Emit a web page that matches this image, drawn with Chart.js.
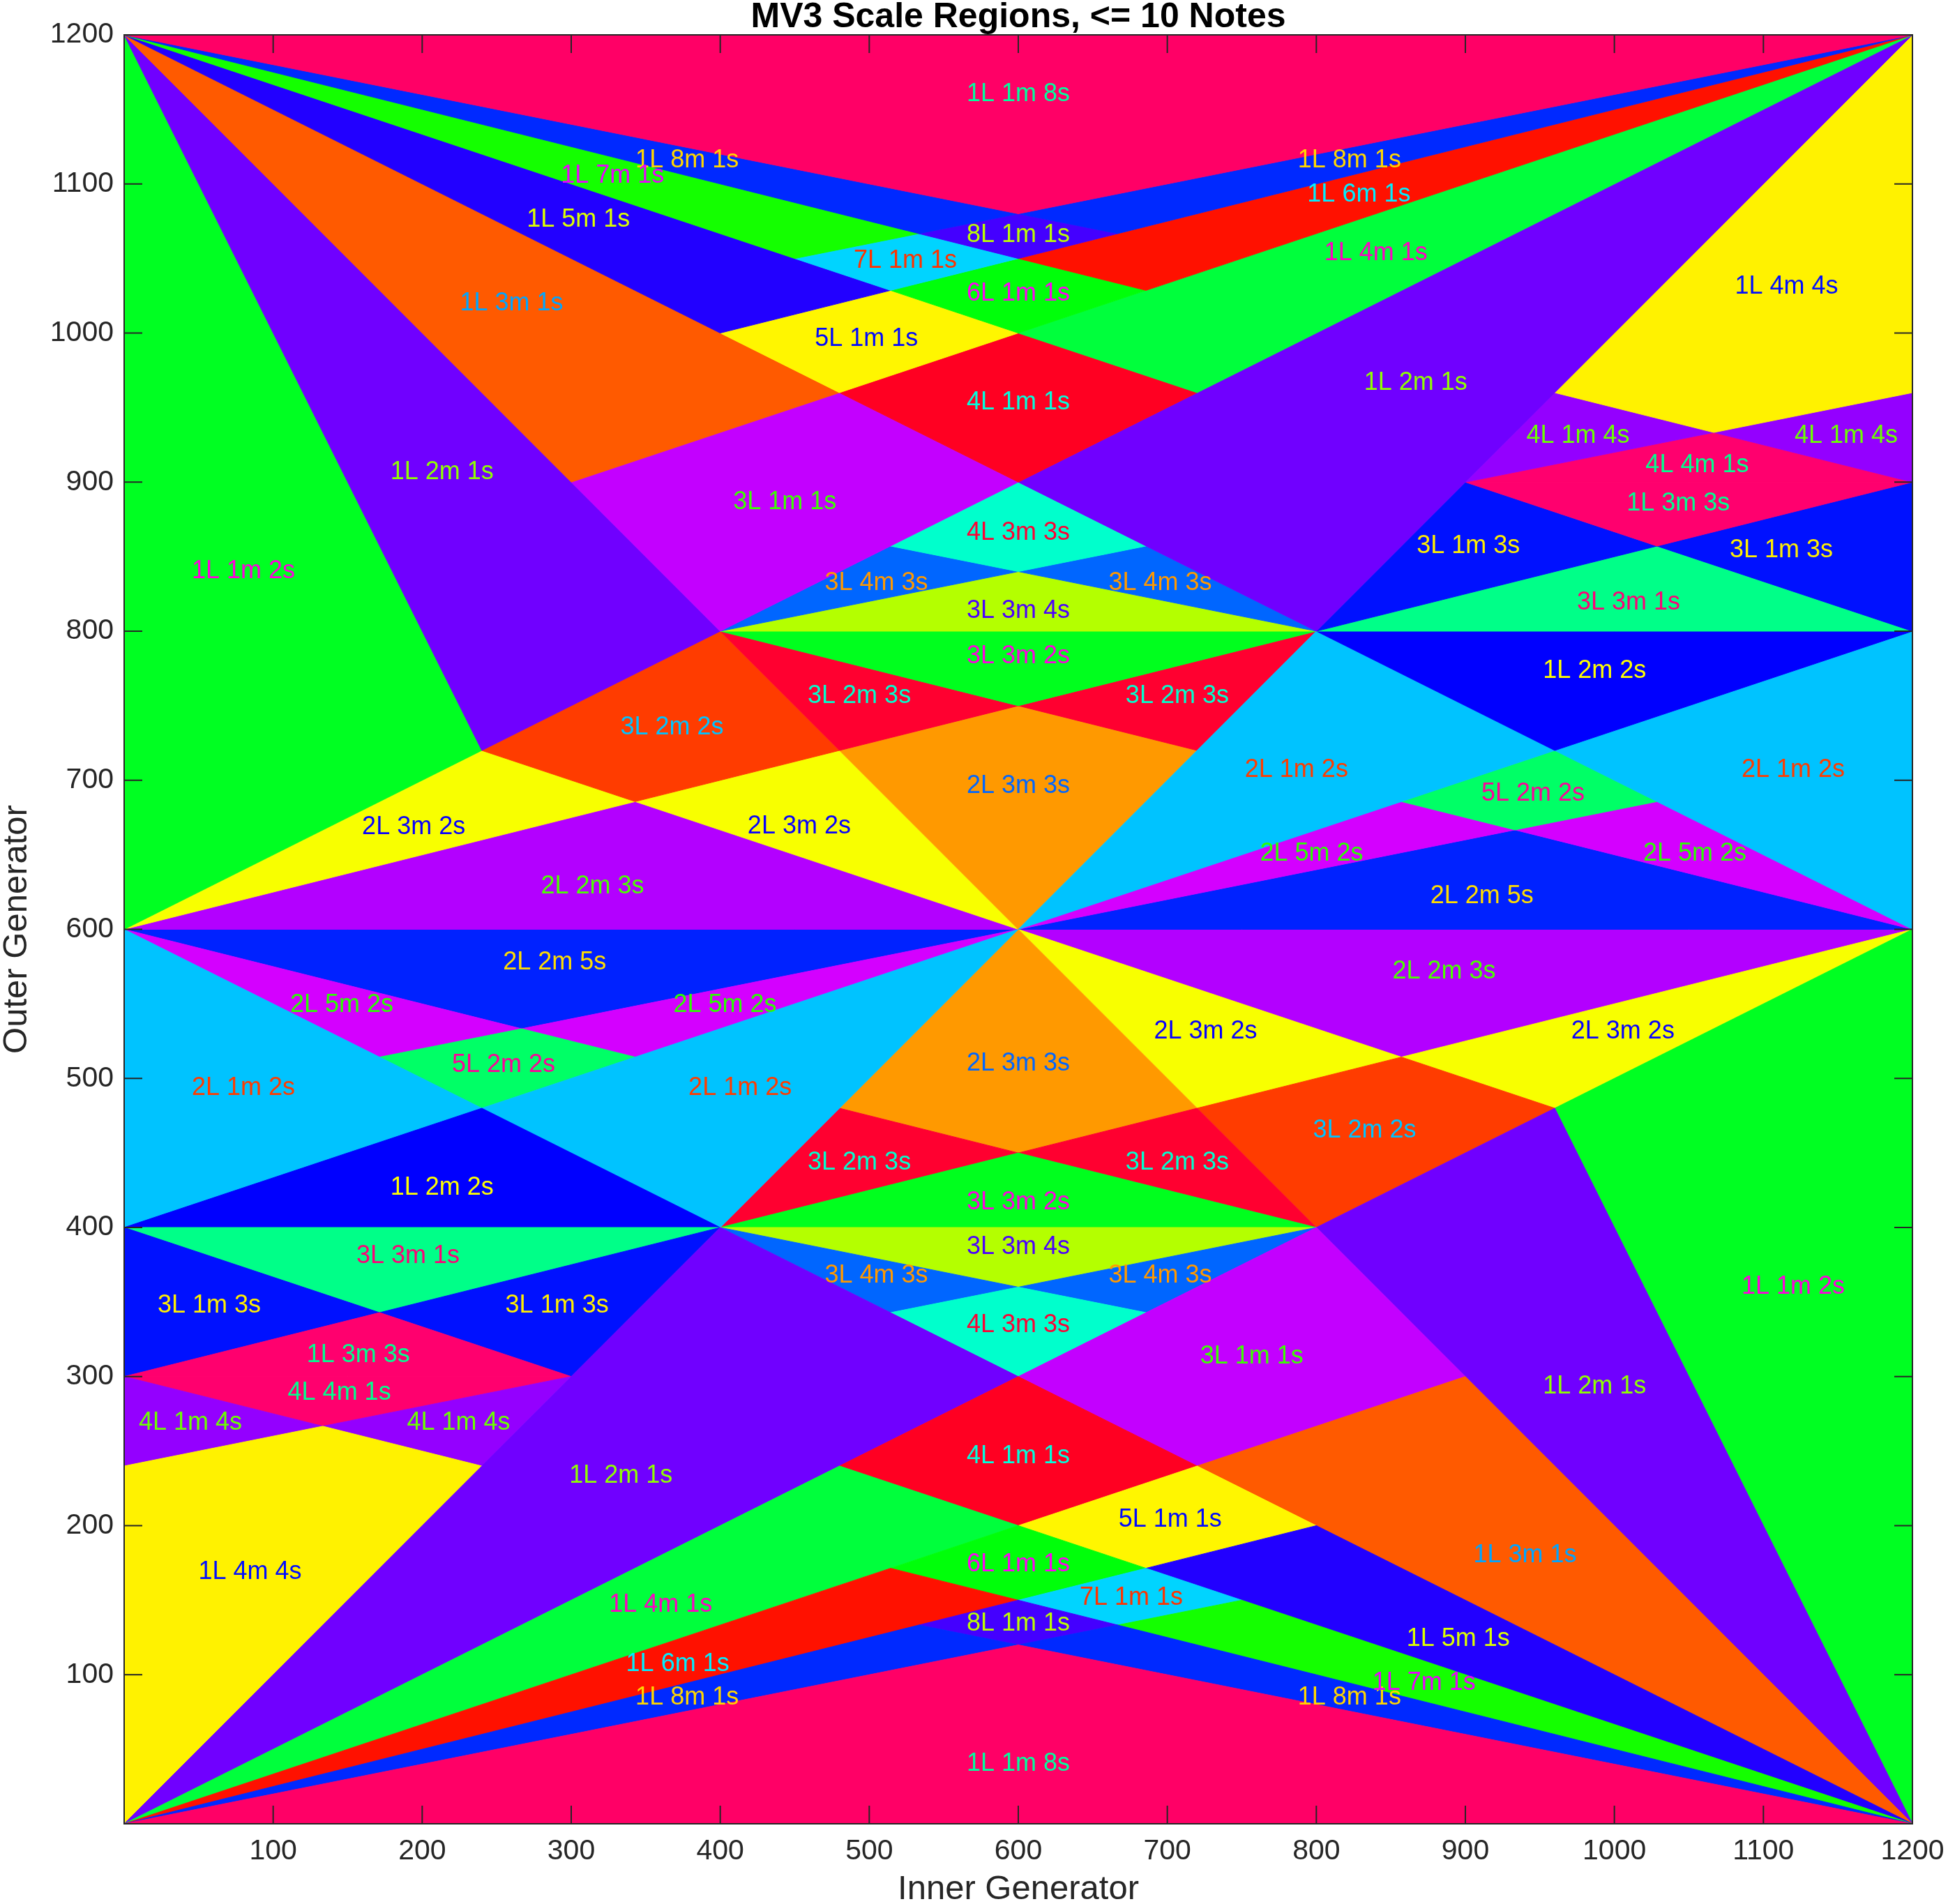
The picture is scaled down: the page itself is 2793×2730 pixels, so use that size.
<!DOCTYPE html>
<html>
<head>
<meta charset="utf-8">
<title>MV3 Scale Regions</title>
<script src="https://cdn.jsdelivr.net/npm/chart.js@4.4.1/dist/chart.umd.min.js"></script>
<style>
  html, body { margin: 0; background: #fff; }
  canvas { display: block; }
</style>
</head>
<body>
<canvas id="regionsChart" width="2793" height="2730" style="width:2793px;height:2730px"></canvas>
<script>
// scale signatures and their colours
const scaleNames = ['1L 1m 8s','1L 8m 1s','8L 1m 1s','1L 7m 1s','7L 1m 1s','1L 6m 1s','1L 5m 1s','6L 1m 1s','5L 1m 1s',
  '1L 4m 1s','1L 3m 1s','4L 1m 1s','3L 1m 1s','1L 2m 1s','1L 1m 2s','4L 3m 3s','3L 4m 3s','3L 3m 4s','1L 4m 4s',
  '4L 1m 4s','4L 4m 1s','1L 3m 3s','3L 1m 3s','3L 3m 1s','1L 2m 2s','2L 1m 2s','5L 2m 2s','2L 5m 2s','2L 2m 5s',
  '3L 3m 2s','3L 2m 3s','2L 3m 3s','3L 2m 2s','2L 3m 2s','2L 2m 3s'];
const fillColors = ['#FF0066','#0029FF','#4400FF','#14FF00','#00D4FF','#FF1100','#2200FF','#00FF0A','#FFF600',
  '#00FF3C','#FF5A00','#FF0022','#C300FF','#7000FF','#00FF22','#00FFCC','#0066FF','#B4FF00','#FFF200',
  '#9400FF','#FF006E','#FF006E','#0011FF','#00FF88','#0000FF','#00C3FF','#00FF66','#D400FF','#0022FF',
  '#00FF1E','#FF0030','#FF9900','#FF3C00','#F8FF00','#B300FF'];
const textColors = ['#00FF9E','#FFD600','#BBFF00','#EB00FF','#FF3300','#00EEFF','#DDFF00','#FF00F5','#0009FF',
  '#FF00C3','#00A5FF','#00FFDD','#3CFF00','#8FFF00','#FF00DD','#FF0033','#FF9900','#4B00FF','#000EFF',
  '#6BFF00','#00FF8F','#00FF91','#FFEE00','#FF0077','#FFFF00','#FF3C00','#FF0099','#2BFF00','#FFDD00',
  '#FF00E1','#00FFCF','#0066FF','#00C3FF','#0700FF','#4CFF00'];

// which signature each region carries (same order for the upper and lower half)
const regionScales = ['1L 1m 8s','1L 8m 1s','1L 8m 1s','8L 1m 1s','1L 7m 1s','7L 1m 1s','1L 6m 1s','1L 5m 1s','6L 1m 1s','5L 1m 1s',
  '1L 4m 1s','1L 3m 1s','4L 1m 1s','3L 1m 1s','1L 2m 1s','1L 1m 2s','1L 2m 1s','4L 3m 3s','3L 4m 3s','3L 4m 3s',
  '3L 3m 4s','1L 4m 4s','4L 1m 4s','4L 1m 4s','4L 4m 1s','1L 3m 3s','3L 1m 3s','3L 1m 3s','3L 3m 1s','1L 2m 2s',
  '2L 1m 2s','2L 1m 2s','5L 2m 2s','2L 5m 2s','2L 5m 2s','2L 2m 5s','3L 3m 2s','3L 2m 3s','3L 2m 3s','2L 3m 3s',
  '3L 2m 2s','2L 3m 2s','2L 3m 2s','2L 2m 3s'];

// region corners, [inner, outer] generator in cents
const upperVerts = [
  [[0,1200],[1200,1200],[600,1080]],
  [[0,1200],[600,1080],[533.3,1066.7]],
  [[600,1080],[1200,1200],[666.7,1066.7]],
  [[600,1080],[666.7,1066.7],[600,1050],[533.3,1066.7]],
  [[0,1200],[533.3,1066.7],[450,1050]],
  [[450,1050],[533.3,1066.7],[600,1050],[514.3,1028.6]],
  [[600,1050],[1200,1200],[685.7,1028.6]],
  [[0,1200],[514.3,1028.6],[400,1000]],
  [[514.3,1028.6],[600,1050],[685.7,1028.6],[600,1000]],
  [[400,1000],[514.3,1028.6],[600,1000],[480,960]],
  [[600,1000],[1200,1200],[720,960]],
  [[0,1200],[300,900],[480,960]],
  [[480,960],[600,1000],[720,960],[600,900]],
  [[300,900],[480,960],[600,900],[400,800]],
  [[0,1200],[240,720],[400,800]],
  [[0,600],[0,1200],[240,720]],
  [[600,900],[1200,1200],[800,800]],
  [[600,900],[685.7,857.1],[600,840],[514.3,857.1]],
  [[400,800],[514.3,857.1],[600,840]],
  [[600,840],[685.7,857.1],[800,800]],
  [[400,800],[600,840],[800,800]],
  [[1200,1200],[960,960],[1066.7,933.3],[1200,960]],
  [[960,960],[1066.7,933.3],[900,900]],
  [[1066.7,933.3],[1200,960],[1200,900]],
  [[900,900],[1066.7,933.3],[1200,900]],
  [[900,900],[1200,900],[1028.6,857.1]],
  [[800,800],[900,900],[1028.6,857.1]],
  [[1028.6,857.1],[1200,900],[1200,800]],
  [[800,800],[1028.6,857.1],[1200,800]],
  [[800,800],[1200,800],[960,720]],
  [[600,600],[800,800],[960,720]],
  [[960,720],[1200,800],[1200,600]],
  [[960,720],[1028.6,685.7],[933.3,666.7],[857.1,685.7]],
  [[600,600],[857.1,685.7],[933.3,666.7]],
  [[933.3,666.7],[1028.6,685.7],[1200,600]],
  [[600,600],[933.3,666.7],[1200,600]],
  [[400,800],[800,800],[600,750]],
  [[400,800],[600,750],[480,720]],
  [[800,800],[720,720],[600,750]],
  [[480,720],[600,750],[720,720],[600,600]],
  [[240,720],[400,800],[480,720],[342.9,685.7]],
  [[0,600],[240,720],[342.9,685.7]],
  [[342.9,685.7],[480,720],[600,600]],
  [[0,600],[342.9,685.7],[600,600]]
];

const lowerVerts = [
  [[1200,0],[0,0],[600,120]],
  [[1200,0],[600,120],[666.7,133.3]],
  [[600,120],[0,0],[533.3,133.3]],
  [[600,120],[533.3,133.3],[600,150],[666.7,133.3]],
  [[1200,0],[666.7,133.3],[750,150]],
  [[750,150],[666.7,133.3],[600,150],[685.7,171.4]],
  [[600,150],[0,0],[514.3,171.4]],
  [[1200,0],[685.7,171.4],[800,200]],
  [[685.7,171.4],[600,150],[514.3,171.4],[600,200]],
  [[800,200],[685.7,171.4],[600,200],[720,240]],
  [[600,200],[0,0],[480,240]],
  [[1200,0],[900,300],[720,240]],
  [[720,240],[600,200],[480,240],[600,300]],
  [[900,300],[720,240],[600,300],[800,400]],
  [[1200,0],[960,480],[800,400]],
  [[1200,600],[1200,0],[960,480]],
  [[600,300],[0,0],[400,400]],
  [[600,300],[514.3,342.9],[600,360],[685.7,342.9]],
  [[800,400],[685.7,342.9],[600,360]],
  [[600,360],[514.3,342.9],[400,400]],
  [[800,400],[600,360],[400,400]],
  [[0,0],[240,240],[133.3,266.7],[0,240]],
  [[240,240],[133.3,266.7],[300,300]],
  [[133.3,266.7],[0,240],[0,300]],
  [[300,300],[133.3,266.7],[0,300]],
  [[300,300],[0,300],[171.4,342.9]],
  [[400,400],[300,300],[171.4,342.9]],
  [[171.4,342.9],[0,300],[0,400]],
  [[400,400],[171.4,342.9],[0,400]],
  [[400,400],[0,400],[240,480]],
  [[600,600],[400,400],[240,480]],
  [[240,480],[0,400],[0,600]],
  [[240,480],[171.4,514.3],[266.7,533.3],[342.9,514.3]],
  [[600,600],[342.9,514.3],[266.7,533.3]],
  [[266.7,533.3],[171.4,514.3],[0,600]],
  [[600,600],[266.7,533.3],[0,600]],
  [[800,400],[400,400],[600,450]],
  [[800,400],[600,450],[720,480]],
  [[400,400],[480,480],[600,450]],
  [[720,480],[600,450],[480,480],[600,600]],
  [[960,480],[800,400],[720,480],[857.1,514.3]],
  [[1200,600],[960,480],[857.1,514.3]],
  [[857.1,514.3],[720,480],[600,600]],
  [[1200,600],[857.1,514.3],[600,600]]
];

// a few labels in the upper half are not at the region centroid
const labelSpots = { 26: [902, 857], 27: [1112, 854], 39: [600, 696], 42: [453, 669] };

const allVerts = upperVerts.concat(lowerVerts);
const allScales = regionScales.concat(regionScales);
const FONT = '"Liberation Sans", Arial, Helvetica, sans-serif';

function centroid(pts) {
  let a = 0, cx = 0, cy = 0;
  for (let i = 0; i < pts.length; i++) {
    const [x0, y0] = pts[i];
    const [x1, y1] = pts[(i + 1) % pts.length];
    const c = x0 * y1 - x1 * y0;
    a += c;
    cx += (x0 + x1) * c;
    cy += (y0 + y1) * c;
  }
  return [cx / (3 * a), cy / (3 * a)];
}

const datasets = allVerts.map((pts, i) => {
  const col = fillColors[scaleNames.indexOf(allScales[i])];
  const closed = pts.concat([pts[0]]);
  return {
    label: allScales[i],
    data: closed.map(p => ({ x: p[0], y: p[1] })),
    showLine: true,
    fill: 'shape',
    backgroundColor: col,
    borderColor: col,
    borderWidth: 1,
    borderJoinStyle: 'round',
    pointRadius: 0,
    tension: 0
  };
});

// region names, written on each region
const regionLabels = {
  id: 'regionLabels',
  afterDatasetsDraw(chart) {
    const { ctx, scales: { x, y } } = chart;
    ctx.save();
    ctx.font = '36px ' + FONT;
    ctx.textAlign = 'center';
    ctx.textBaseline = 'middle';
    allVerts.forEach((pts, i) => {
      const c = (i < upperVerts.length && labelSpots[i]) || centroid(pts);
      ctx.fillStyle = textColors[scaleNames.indexOf(allScales[i])];
      ctx.fillText(allScales[i], x.getPixelForValue(c[0]), y.getPixelForValue(c[1]));
    });
    ctx.restore();
  }
};

// box round the plot with inward ticks on all four sides
const boxTicks = {
  id: 'boxTicks',
  afterDraw(chart) {
    const { ctx, chartArea: a, scales: { x, y } } = chart;
    const len = 26;
    ctx.save();
    ctx.strokeStyle = '#262626';
    ctx.lineWidth = 2;
    ctx.beginPath();
    x.ticks.forEach(t => {
      const px = x.getPixelForValue(t.value);
      ctx.moveTo(px, a.bottom); ctx.lineTo(px, a.bottom - len);
      ctx.moveTo(px, a.top); ctx.lineTo(px, a.top + len);
    });
    y.ticks.forEach(t => {
      const py = y.getPixelForValue(t.value);
      ctx.moveTo(a.left, py); ctx.lineTo(a.left + len, py);
      ctx.moveTo(a.right, py); ctx.lineTo(a.right - len, py);
    });
    ctx.stroke();
    ctx.strokeRect(a.left, a.top, a.right - a.left, a.bottom - a.top);
    ctx.restore();
  }
};

new Chart(document.getElementById('regionsChart'), {
  type: 'scatter',
  data: { datasets: datasets },
  options: {
    responsive: false,
    animation: false,
    devicePixelRatio: 1,
    events: [],
    layout: { padding: { right: 51 } },
    plugins: {
      legend: { display: false },
      tooltip: { enabled: false },
      title: {
        display: true,
        fullSize: false,
        text: 'MV3 Scale Regions, <= 10 Notes',
        color: '#000',
        font: { family: FONT, size: 50, weight: 'bold', lineHeight: 1 },
        padding: { top: 0, bottom: 0 }
      }
    },
    scales: {
      x: {
        type: 'linear', min: 0, max: 1200,
        afterFit: s => { s.height = 115; s.paddingLeft = 0; s.paddingRight = 0; },
        grid: { display: false, drawTicks: false },
        border: { display: false },
        ticks: {
          stepSize: 100, autoSkip: false, maxRotation: 0, padding: 15,
          color: '#262626', font: { family: FONT, size: 41 },
          callback: v => v === 0 ? '' : String(v)
        },
        title: {
          display: true, text: 'Inner Generator', color: '#262626',
          font: { family: FONT, size: 49, lineHeight: 1 }, padding: { top: 0, bottom: -4 }
        }
      },
      y: {
        type: 'linear', min: 0, max: 1200,
        afterFit: s => { s.width = 178; s.paddingTop = 0; s.paddingBottom = 0; },
        grid: { display: false, drawTicks: false },
        border: { display: false },
        ticks: {
          stepSize: 100, autoSkip: false, padding: 15,
          color: '#262626', font: { family: FONT, size: 41 },
          callback: v => v === 0 ? '' : String(v)
        },
        title: {
          display: true, text: 'Outer Generator', color: '#262626',
          font: { family: FONT, size: 49, lineHeight: 1 }, padding: 0
        }
      }
    }
  },
  plugins: [boxTicks, regionLabels]
});
</script>
</body>
</html>
